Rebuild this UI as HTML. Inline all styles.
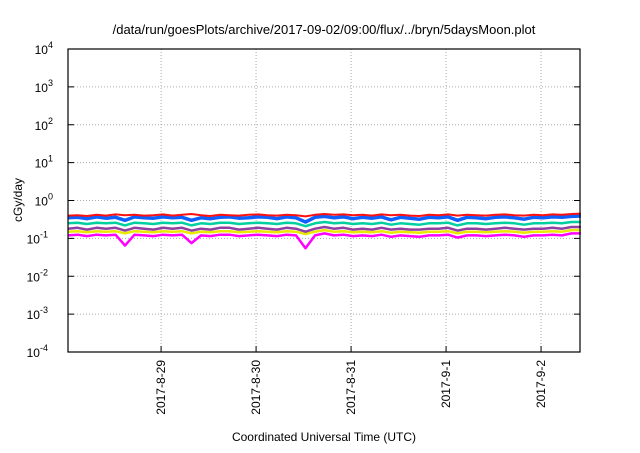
<!DOCTYPE html>
<html><head><meta charset="utf-8"><style>
body{margin:0;background:#fff;width:640px;height:448px;overflow:hidden;font-family:"Liberation Sans",sans-serif}
</style></head><body>
<svg id="chart" width="640" height="448" xmlns="http://www.w3.org/2000/svg" font-family="Liberation Sans, sans-serif">
<text x="324" y="34" font-size="13" text-anchor="middle">/data/run/goesPlots/archive/2017-09-02/09:00/flux/../bryn/5daysMoon.plot</text>
<text transform="translate(22,200) rotate(-90)" font-size="12" text-anchor="middle">cGy/day</text>
<text x="324" y="441" font-size="12" text-anchor="middle">Coordinated Universal Time (UTC)</text>
<g id="grid"></g><g id="series"></g><g id="axes"></g>
</svg>
<script>
const decades=[-4,-3,-2,-1,0,1,2,3,4];
const dayTicks=["2017-8-29","2017-8-30","2017-8-31","2017-9-1","2017-9-2"];
const dayTickPos=[1,2,3,4,5];
const tStart=0.02, tStep=0.1;
const red=[0.40,0.41,0.39,0.42,0.40,0.43,0.41,0.42,0.40,0.41,0.43,0.40,0.42,0.44,0.41,0.39,0.42,0.41,0.40,0.42,0.43,0.41,0.40,0.42,0.41,0.38,0.42,0.44,0.42,0.43,0.41,0.42,0.40,0.43,0.41,0.42,0.40,0.39,0.42,0.41,0.43,0.40,0.42,0.41,0.40,0.42,0.43,0.41,0.40,0.42,0.41,0.43,0.42,0.44,0.45];
const blue=[0.35,0.36,0.33,0.37,0.34,0.36,0.30,0.37,0.35,0.34,0.37,0.35,0.36,0.30,0.35,0.33,0.36,0.37,0.34,0.35,0.37,0.36,0.33,0.37,0.35,0.27,0.36,0.38,0.35,0.37,0.33,0.36,0.34,0.37,0.31,0.36,0.34,0.32,0.36,0.35,0.37,0.30,0.36,0.35,0.33,0.36,0.37,0.35,0.32,0.36,0.35,0.37,0.36,0.38,0.39];
const teal=[0.25,0.26,0.24,0.26,0.25,0.26,0.22,0.26,0.25,0.24,0.26,0.25,0.26,0.22,0.25,0.24,0.26,0.26,0.24,0.25,0.26,0.25,0.24,0.26,0.25,0.21,0.25,0.27,0.25,0.26,0.24,0.25,0.24,0.26,0.23,0.25,0.24,0.23,0.25,0.25,0.26,0.22,0.25,0.25,0.24,0.25,0.26,0.25,0.23,0.25,0.25,0.26,0.25,0.27,0.27];
const purple=[0.18,0.19,0.17,0.19,0.18,0.19,0.16,0.19,0.18,0.17,0.19,0.18,0.19,0.16,0.18,0.17,0.19,0.19,0.17,0.18,0.19,0.18,0.17,0.19,0.18,0.15,0.18,0.20,0.18,0.19,0.17,0.18,0.17,0.19,0.17,0.18,0.17,0.17,0.18,0.18,0.19,0.16,0.18,0.18,0.17,0.18,0.19,0.18,0.17,0.18,0.18,0.19,0.18,0.20,0.20];
const yellow=[0.150,0.155,0.145,0.155,0.150,0.155,0.135,0.155,0.150,0.145,0.155,0.150,0.155,0.135,0.150,0.145,0.155,0.155,0.145,0.150,0.155,0.150,0.145,0.155,0.150,0.130,0.150,0.165,0.150,0.155,0.145,0.150,0.145,0.155,0.140,0.150,0.145,0.140,0.150,0.150,0.155,0.135,0.150,0.150,0.145,0.150,0.155,0.150,0.140,0.150,0.150,0.155,0.150,0.165,0.165];
const magenta=[0.120,0.125,0.115,0.125,0.120,0.125,0.065,0.125,0.120,0.115,0.125,0.120,0.125,0.075,0.120,0.115,0.125,0.125,0.115,0.120,0.125,0.120,0.115,0.125,0.120,0.055,0.120,0.135,0.120,0.125,0.115,0.120,0.115,0.125,0.110,0.120,0.115,0.110,0.120,0.120,0.125,0.105,0.120,0.120,0.115,0.120,0.125,0.120,0.110,0.120,0.120,0.125,0.120,0.135,0.135];
const seriesNames=["magenta","yellow","purple","teal","blue","red"];
const seriesData=[magenta,yellow,purple,teal,blue,red];
const seriesColors=["#ff00ff","#e8e800","#9040a0","#00d0a0","#1060ff","#ff1010"];
const seriesWidths=[2.5,2.5,2.5,2.5,3.5,2];
const L=68,R=580,T=49,B=352,t0=0.02,t1=5.41;
const xs=t=>L+(t-t0)/(t1-t0)*(R-L);
const ys=v=>T+(4-Math.log10(v))/8*(B-T);
const NS="http://www.w3.org/2000/svg";
function mk(tag,attrs,parent){const e=document.createElementNS(NS,tag);for(const k in attrs)e.setAttribute(k,attrs[k]);parent.appendChild(e);return e;}
const grid=document.getElementById('grid'),axes=document.getElementById('axes'),ser=document.getElementById('series');
decades.forEach(d=>{const y=ys(Math.pow(10,d));
 if(d>-4&&d<4){const g=mk('line',{x1:L,x2:R,y1:y,y2:y,stroke:'#aaa','stroke-dasharray':'1,2','stroke-width':1},grid);
 
 }
 const tk=mk('line',{x1:L,x2:L+6,y1:y,y2:y,stroke:'#000'},axes);
 
 
 const tk2=mk('line',{x1:R,x2:R-6,y1:y,y2:y,stroke:'#000'},axes);
 
 
 const tx=mk('text',{x:L-24,y:y+5,'font-size':12,'text-anchor':'end'},axes);
 
 
 tx.textContent='10';
 const sp=mk('tspan',{dy:-6,'font-size':9},tx);sp.textContent=String(d);
 tx.setAttribute('x',L-10-(String(d).length*5));
});
dayTicks.forEach((lab,i)=>{const x=xs(dayTickPos[i]);
 const g=mk('line',{x1:x,x2:x,y1:T,y2:B,stroke:'#aaa','stroke-dasharray':'1,2'},grid);
 
 
 const tk=mk('line',{x1:x,x2:x,y1:B,y2:B-6,stroke:'#000'},axes);
 
 
 const tx=mk('text',{transform:`translate(${x+4},${B+8}) rotate(-90)`,'font-size':12,'text-anchor':'end'},axes);
 
 
 tx.textContent=lab;
});
const fr=mk('rect',{x:L,y:T,width:R-L,height:B-T,fill:'none',stroke:'#000','stroke-width':1.2},axes);


seriesData.forEach((arr,i)=>{
 const pts=arr.map((v,j)=>xs(tStart+j*tStep).toFixed(1)+','+ys(v).toFixed(1)).join(' ');
 const p=mk('polyline',{points:pts,fill:'none',stroke:seriesColors[i],'stroke-width':seriesWidths[i],'stroke-linejoin':'round'},ser);
 
 
});
</script>
</body></html>
